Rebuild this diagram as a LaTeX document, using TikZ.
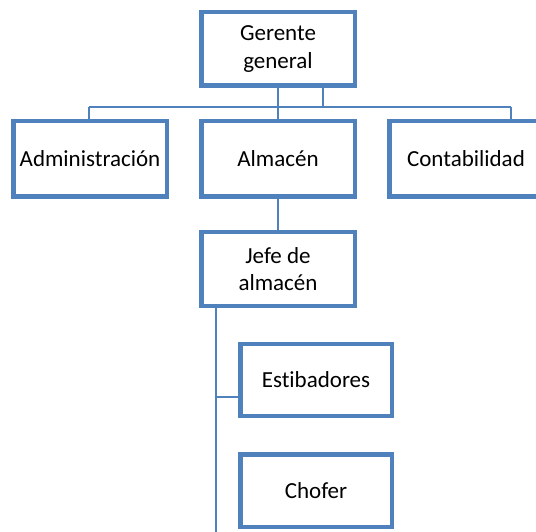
\documentclass[tikz,border=0pt]{standalone}
\usepackage{fontspec}
\setmainfont[Ligatures={NoCommon}]{Carlito}
\definecolor{boxblue}{HTML}{4F81BD}
\begin{document}
\begin{tikzpicture}[x=1pt,y=-1pt,
  orgbox/.style={draw=boxblue,line width=4.5pt,fill=white,rectangle,inner sep=0pt,
    align=center,font=\fontsize{23}{27.6}\selectfont,text=black},
  wide/.style={orgbox,minimum width=153.5pt,minimum height=75.5pt},
  lower/.style={orgbox,minimum width=151.5pt,minimum height=72pt},
  link/.style={draw=boxblue,line width=2.5pt}]
\useasboundingbox (0,0) rectangle (536,532);
\clip (0,0) rectangle (536,532);
% connector anchor points
\coordinate (busL) at (89,107);
\coordinate (busR) at (511,107);
\coordinate (g2) at (323,107);
\coordinate (jb) at (216,532);
\coordinate (tap) at (216,397);
% boxes
\node[wide,minimum height=73.5pt] (ger) at (278,49) {};
\node[wide] (adm) at (90,159) {};
\node[wide] (alm) at (278,159) {};
\node[wide] (con) at (466,159) {};
\node[wide,minimum height=73.5pt] (jefe) at (278,269) {};
\node[lower] (est) at (316,380) {};
\node[lower,minimum height=72.5pt] (cho) at (316,490.5) {};
% connectors
\draw[link] (busL) -- (busR);
\draw[link] (busL) -- (busL |- adm.north);
\draw[link] (busR) -- (busR |- con.north);
\draw[link] (ger.south) -- (alm.north);
\draw[link] (g2 |- ger.south) -- (g2);
\draw[link] (alm.south) -- (jefe.north);
\draw[link] (jb |- jefe.south) -- (jb);
\draw[link] (tap) -- (tap -| est.west);
% boxes with text, drawn over the connectors
\node[wide,minimum height=73.5pt] at (ger) {Gerente\\general};
\node[wide] at (adm) {Administración};
\node[wide] at (alm) {Almacén};
\node[wide] at (con) {Contabilidad};
\node[wide,minimum height=73.5pt] at (jefe) {Jefe de\\almacén};
\node[lower] at (est) {Estibadores};
\node[lower,minimum height=72.5pt] at (cho) {Chofer};
\end{tikzpicture}
\end{document}
